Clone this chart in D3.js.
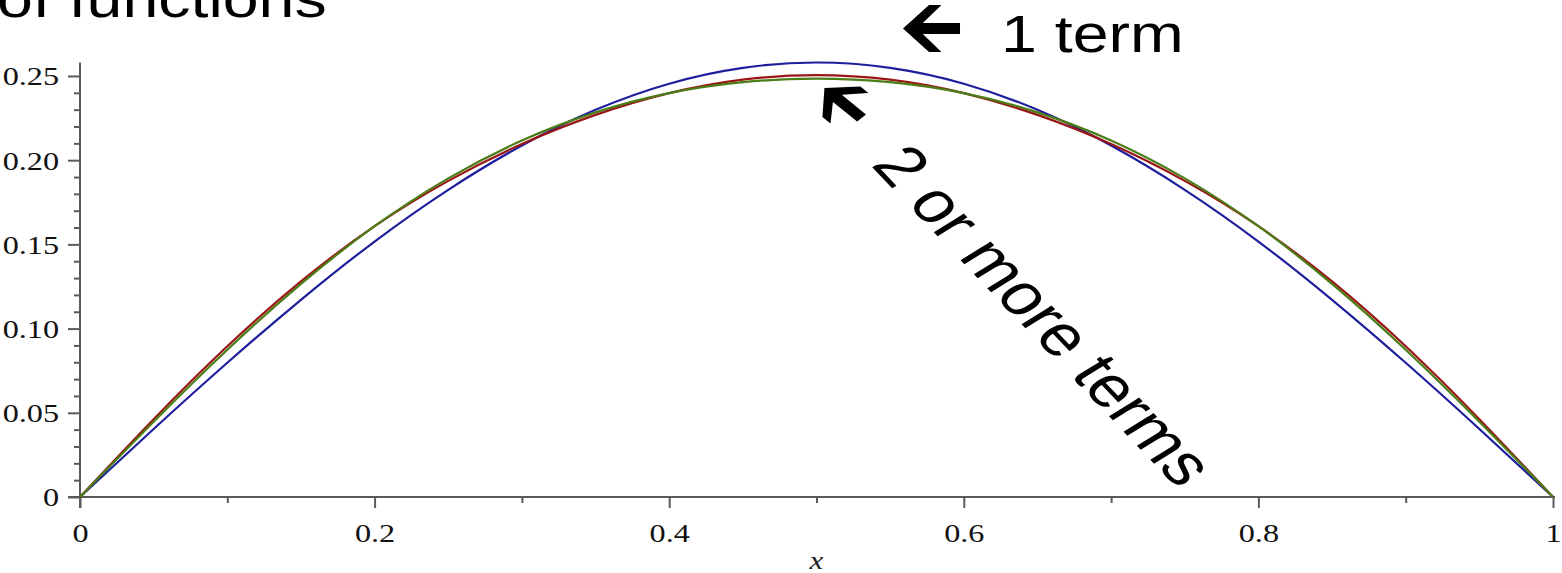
<!DOCTYPE html>
<html>
<head>
<meta charset="utf-8">
<script src="https://d3js.org/d3.v7.min.js"></script>
<style>
  body { margin: 0; background: #fff; }
  svg { display: block; }
  .axis path, .axis line { stroke: #5a5a5a; stroke-width: 2; }
  .axis text { font-family: "Liberation Serif", "Times New Roman", serif; font-size: 26px; fill: #111; }
  .note { font-family: "Liberation Sans", Arial, sans-serif; font-size: 52px; fill: #000; }
</style>
</head>
<body>
<svg width="1562" height="573"></svg>
<script>
// sample positions along x
var xs = [0, 0.05, 0.1, 0.15, 0.2, 0.25, 0.3, 0.35, 0.4, 0.45, 0.5,
          0.55, 0.6, 0.65, 0.7, 0.75, 0.8, 0.85, 0.9, 0.95, 1];

// 1 term (blue)
var oneTerm = [0, 0.0404, 0.0797, 0.1171, 0.1517, 0.1824, 0.2087, 0.2299, 0.2454, 0.2548, 0.2580,
               0.2548, 0.2454, 0.2299, 0.2087, 0.1824, 0.1517, 0.1171, 0.0797, 0.0404, 0];
// red curve
var redTerms = [0, 0.0462, 0.0895, 0.1280, 0.1608, 0.1877, 0.2096, 0.2269, 0.2398, 0.2478, 0.2505,
                0.2478, 0.2398, 0.2269, 0.2096, 0.1877, 0.1608, 0.1280, 0.0895, 0.0462, 0];
// green curve
var greenTerms = [0, 0.0447, 0.0874, 0.1265, 0.1608, 0.1892, 0.2117, 0.2284, 0.2398, 0.2463, 0.2484,
                  0.2463, 0.2398, 0.2284, 0.2117, 0.1892, 0.1608, 0.1265, 0.0874, 0.0447, 0];

var xTicks = [0, 0.2, 0.4, 0.6, 0.8, 1];
var xTickLabels = ["0", "0.2", "0.4", "0.6", "0.8", "1"];
var xMinor = [0.1, 0.3, 0.5, 0.7, 0.9];
var yTicks = [0, 0.05, 0.1, 0.15, 0.2, 0.25];
var yTickLabels = ["0", "0.05", "0.10", "0.15", "0.20", "0.25"];
var yMinor = d3.range(1, 26).map(function(i) { return i / 100; }).filter(function(v) {
  return Math.round(v * 100) % 5 !== 0;
});

var svg = d3.select("svg"),
margin = {top: 62.5, right: 9, bottom: 76, left: 80},
width = +svg.attr("width") - margin.left - margin.right,
height = +svg.attr("height") - margin.top - margin.bottom,
g = svg.append("g").attr("transform", "translate(" + margin.left + "," + margin.top + ")");

var stretch = 1.24; // the slide picture is stretched sideways

var x = d3.scaleLinear().domain([0, 1]).range([0, width]);
var y = d3.scaleLinear().domain([0, 0.258]).range([height, 0]);

// title fragment at top
svg.append("text")
.attr("class", "note")
.attr("transform", "translate(-3,17) scale(" + stretch + ",1)")
.text("of functions");

// minor ticks
g.append("g")
.attr("class", "axis")
.attr("transform", "translate(0," + height + ")")
.call(d3.axisBottom(x).tickValues(xMinor).tickSize(6).tickFormat(""))
.select(".domain").remove();

g.append("g")
.attr("class", "axis")
.call(d3.axisLeft(y).tickValues(yMinor).tickSize(6).tickFormat(""))
.select(".domain").remove();

// x axis
var xAxis = g.append("g")
.attr("class", "axis")
.attr("transform", "translate(0," + height + ")")
.call(d3.axisBottom(x).tickValues(xTicks).tickSize(11).tickSizeOuter(0)
  .tickFormat(function(d, i) { return xTickLabels[i]; }));
xAxis.select(".domain").attr("d", "M-12,0H" + (width + 2));
xAxis.selectAll("text")
.attr("y", 45)
.attr("dy", null)
.attr("transform", "scale(" + stretch + ",1)");

// y axis
var yAxis = g.append("g")
.attr("class", "axis")
.call(d3.axisLeft(y).tickValues(yTicks).tickSize(12).tickSizeOuter(0)
  .tickFormat(function(d, i) { return yTickLabels[i]; }));
yAxis.select(".domain").attr("d", "M0," + (height + 11) + "V0");
yAxis.selectAll("text")
.attr("x", -21 / stretch)
.attr("dy", "0.34em")
.attr("transform", "scale(" + stretch + ",1)");

// x-axis label
g.append("text")
.attr("x", 0)
.attr("y", 0)
.attr("transform", "translate(" + x(0.5) + "," + (height + 72) + ") scale(" + stretch + ",1)")
.attr("font-family", "Liberation Serif, serif")
.attr("font-style", "italic")
.attr("font-size", 25)
.attr("fill", "#222")
.attr("text-anchor", "middle")
.text("x");

// curves
var line = d3.line()
.x(function(d) { return x(d[0]); })
.y(function(d) { return y(d[1]); })
.curve(d3.curveNatural);

var series = [
  {values: oneTerm, color: "#1f1f9e"},
  {values: redTerms, color: "#9a1616"},
  {values: greenTerms, color: "#4b7d16"}
];

g.selectAll(".curve")
.data(series)
.enter().append("path")
.attr("class", "curve")
.attr("fill", "none")
.attr("stroke", function(d) { return d.color; })
.attr("stroke-width", 2.2)
.attr("d", function(d) {
  return line(xs.map(function(v, i) { return [v, d.values[i]]; }));
});

// arrows pointing left, centred at origin
var arrowShape = "M-23,0L-2,-23.5L8,-23.5L-7,-5.5L23,-5.5L23,5.5L-7,5.5L8,23.5L-2,23.5Z";

svg.append("path")
.attr("d", arrowShape)
.attr("fill", "#000")
.attr("transform", "translate(931.5,28.5) scale(" + stretch + ",1)");

svg.append("path")
.attr("d", arrowShape)
.attr("fill", "#000")
.attr("transform", "translate(843,103) scale(" + stretch + ",1) rotate(45) scale(0.92)");

// annotations
svg.append("text")
.attr("class", "note")
.attr("transform", "translate(1001,52) scale(" + stretch + ",1)")
.text("1 term");

svg.append("text")
.attr("class", "note")
.style("font-size", "58px")
.attr("transform", "translate(870,165) scale(" + stretch + ",1) rotate(52.5)")
.text("2 or more terms");
</script>
</body>
</html>
